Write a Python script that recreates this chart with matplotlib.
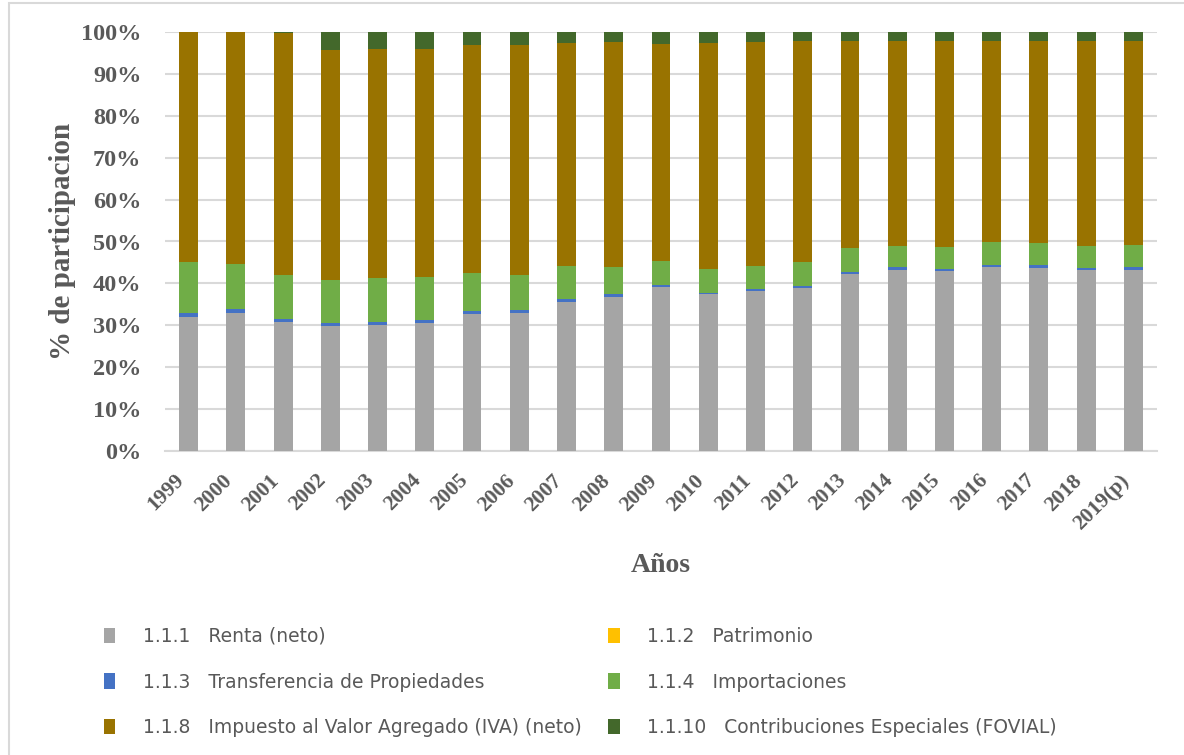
import matplotlib
matplotlib.use("Agg")
import matplotlib.pyplot as plt
from matplotlib.patches import Patch, Rectangle
from matplotlib.transforms import ScaledTranslation
import numpy as np

years = ["1999", "2000", "2001", "2002", "2003", "2004", "2005", "2006", "2007",
         "2008", "2009", "2010", "2011", "2012", "2013", "2014", "2015", "2016",
         "2017", "2018", "2019(p)"]

renta = [32.0, 33.0, 30.8, 29.9, 30.0, 30.5, 32.8, 33.0, 35.6, 36.7, 39.2,
         37.4, 38.1, 39.0, 42.2, 43.2, 42.9, 43.8, 43.7, 43.1, 43.3]
patrimonio = [0.0] * 21
transferencia = [1.0, 0.8, 0.8, 0.7, 0.7, 0.7, 0.7, 0.6, 0.7, 0.8, 0.4,
                 0.4, 0.5, 0.4, 0.5, 0.6, 0.5, 0.5, 0.6, 0.6, 0.5]
importaciones = [12.1, 10.9, 10.4, 10.3, 10.7, 10.4, 9.0, 8.5, 7.9, 6.5, 5.8,
                 5.6, 5.6, 5.8, 5.7, 5.1, 5.3, 5.5, 5.3, 5.3, 5.4]
iva = [54.9, 55.3, 57.8, 54.9, 54.5, 54.4, 54.3, 54.9, 53.1, 53.5, 51.7,
       53.9, 53.5, 52.6, 49.5, 49.0, 49.1, 48.0, 48.2, 48.8, 48.6]
fovial = [0.0, 0.0, 0.2, 4.2, 4.1, 4.0, 3.2, 3.0, 2.7, 2.5, 2.9,
          2.7, 2.3, 2.2, 2.1, 2.1, 2.2, 2.2, 2.2, 2.2, 2.2]

series = [
    ("1.1.1   Renta (neto)", renta, "#A5A5A5"),
    ("1.1.2   Patrimonio", patrimonio, "#FFC000"),
    ("1.1.3   Transferencia de Propiedades", transferencia, "#4472C4"),
    ("1.1.4   Importaciones", importaciones, "#70AD47"),
    ("1.1.8   Impuesto al Valor Agregado (IVA) (neto)", iva, "#997300"),
    ("1.1.10   Contribuciones Especiales (FOVIAL)", fovial, "#43682B"),
]

W, H = 1184, 755
fig = plt.figure(figsize=(W / 100, H / 100), dpi=100)
ax = fig.add_axes([165 / W, 1 - 451 / H, (1157 - 165) / W, (451 - 32) / H])

x = np.arange(len(years))
total = np.array([sum(s[1][i] for s in series) for i in range(len(years))])
bottom = np.zeros(len(years))
handles = {}
for label, vals, color in series:
    pct = np.array(vals, dtype=float) / total * 100
    ax.bar(x, pct, 0.4, bottom=bottom, color=color, linewidth=0, zorder=3)
    bottom += pct
    handles[label] = Patch(facecolor=color, edgecolor="none")

ax.set_xlim(-0.5, len(years) - 0.5)
ax.set_ylim(0, 100)
ax.set_yticks(np.arange(0, 101, 10))
ax.set_yticklabels([f"{v}%" for v in range(0, 101, 10)])
ax.set_xticks(x)
ax.set_xticklabels(years, rotation=45, ha="right")

offset = ScaledTranslation(4 / 100, 0, fig.dpi_scale_trans)
for lbl in ax.get_xticklabels():
    lbl.set_fontfamily("Liberation Serif")
    lbl.set_fontweight("bold")
    lbl.set_fontsize(15.5)
    lbl.set_color("#595959")
    lbl.set_transform(lbl.get_transform() + offset)
for lbl in ax.get_yticklabels():
    lbl.set_fontfamily("Liberation Serif")
    lbl.set_fontweight("bold")
    lbl.set_fontsize(17.5)
    lbl.set_color("#595959")
ax.tick_params(axis="y", length=0, pad=17)
ax.tick_params(axis="x", length=0, pad=14)

ax.grid(axis="y", color="#D9D9D9", linewidth=1.5, zorder=0)
for s in ["top", "right", "left"]:
    ax.spines[s].set_visible(False)
ax.spines["bottom"].set_color("#D9D9D9")
ax.spines["bottom"].set_linewidth(1.5)

fig.text(63 / W, 1 - 241 / H, "% de participacion", rotation=90, ha="center",
         va="center", family="Liberation Serif", weight="bold", size=21,
         color="#595959")
fig.text(661 / W, 1 - 565 / H, "Años", ha="center", va="center",
         family="Liberation Serif", weight="bold", size=20, color="#595959")

order = [series[0][0], series[2][0], series[4][0],
         series[1][0], series[3][0], series[5][0]]
leg = fig.legend([handles[k] for k in order], order, ncol=2,
                 loc="upper left", bbox_to_anchor=(87 / W, 1 - 610 / H),
                 frameon=False, handlelength=0.6, handleheight=0.9,
                 handletextpad=1.47, columnspacing=1.43, labelspacing=1.42,
                 prop=dict(family="DejaVu Sans", size=13.5))
for t in leg.get_texts():
    t.set_color("#595959")

fig.patches.append(Rectangle((8.5 / W, -0.05), 1.2, 1 - 2.5 / H + 0.05,
                             transform=fig.transFigure, fill=False,
                             edgecolor="#D9D9D9", linewidth=1.5))

fig.savefig("out.png", dpi=100, facecolor="white")
